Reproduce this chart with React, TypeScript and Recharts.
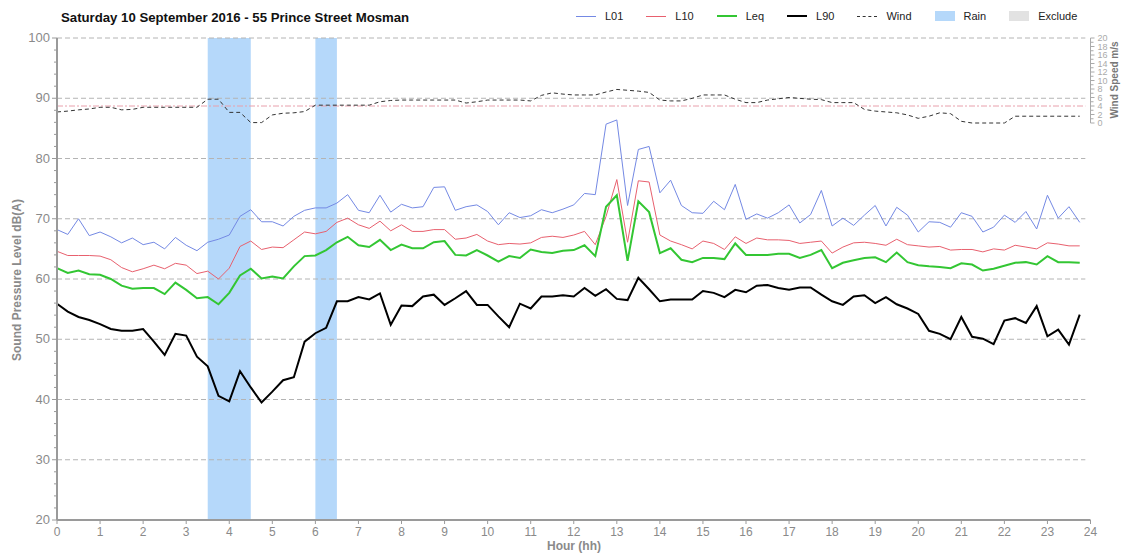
import React from "react";
import { LineChart, Line, XAxis, YAxis, ReferenceArea, ReferenceLine } from "recharts";

// 15 minute intervals, 00:00 .. 23:45
const L01 = [
  68.2, 67.4, 70.0, 67.2, 67.8, 67.0, 66.0, 66.8, 65.7, 66.1, 65.0, 66.9, 65.6, 64.7, 66.1, 66.6,
  67.3, 70.4, 71.5, 69.5, 69.5, 68.8, 70.4, 71.4, 71.8, 71.8, 72.6, 74.0, 71.4, 71.0, 73.9, 71.1,
  72.4, 71.8, 72.0, 75.2, 75.3, 71.4, 72.0, 72.3, 71.2, 69.0, 71.0, 70.2, 70.5, 71.5, 71.0, 71.6,
  72.3, 74.2, 74.0, 85.7, 86.4, 72.2, 81.5, 82.0, 74.3, 76.4, 72.2, 71.0, 70.9, 72.9, 71.5, 75.7,
  69.9, 70.8, 70.1, 71.0, 72.3, 69.3, 70.7, 74.7, 68.8, 70.1, 68.9, 70.6, 72.2, 68.8, 71.9, 70.6,
  67.8, 69.5, 69.4, 68.6, 71.0, 70.4, 67.8, 68.6, 70.6, 69.4, 71.2, 68.3, 73.9, 70.1, 72.0, 69.4,
];
const L10 = [
  64.6, 63.9, 63.9, 63.9, 63.8, 63.2, 61.9, 61.2, 61.7, 62.3, 61.7, 62.6, 62.3, 60.9, 61.3, 60.0,
  61.8, 65.4, 66.3, 64.9, 65.3, 65.2, 66.5, 67.8, 67.5, 67.9, 69.4, 70.1, 69.0, 68.4, 69.6, 68.0,
  69.0, 67.9, 67.9, 68.2, 68.2, 66.6, 66.8, 67.4, 66.3, 65.7, 65.9, 65.8, 66.0, 66.9, 67.1, 66.9,
  67.3, 67.9, 65.7, 70.4, 76.5, 66.1, 76.3, 76.1, 67.3, 66.3, 65.7, 65.0, 66.3, 65.9, 64.9, 67.0,
  65.9, 66.8, 66.5, 66.5, 66.4, 65.9, 66.1, 66.3, 64.3, 65.3, 66.0, 66.1, 65.9, 65.6, 66.6, 65.7,
  65.5, 65.3, 65.4, 64.8, 64.9, 64.9, 64.5, 65.0, 64.8, 65.6, 65.3, 65.0, 66.0, 65.8, 65.5, 65.5,
];
const LEQ = [
  61.8, 61.0, 61.4, 60.8, 60.7, 60.0, 58.9, 58.4, 58.5, 58.5, 57.5, 59.4, 58.2, 56.8, 57.0, 55.8,
  57.7, 60.6, 61.7, 60.1, 60.4, 60.1, 62.1, 63.8, 63.9, 64.8, 66.1, 67.0, 65.6, 65.3, 66.5, 64.8,
  65.7, 65.1, 65.1, 66.1, 66.3, 64.0, 63.9, 64.8, 63.9, 62.9, 63.8, 63.5, 64.9, 64.5, 64.3, 64.7,
  64.8, 65.6, 63.8, 72.0, 73.9, 63.0, 72.9, 71.1, 64.3, 65.1, 63.2, 62.8, 63.5, 63.5, 63.3, 65.9,
  64.0, 64.0, 64.0, 64.2, 64.2, 63.5, 64.0, 64.8, 61.8, 62.7, 63.1, 63.5, 63.6, 62.8, 64.4, 62.8,
  62.3, 62.1, 62.0, 61.8, 62.6, 62.4, 61.4, 61.7, 62.2, 62.7, 62.8, 62.4, 63.8, 62.8, 62.8, 62.7,
];
const L90 = [
  55.9, 54.6, 53.7, 53.2, 52.5, 51.7, 51.4, 51.4, 51.7, 49.6, 47.4, 50.9, 50.6, 47.1, 45.5, 40.6,
  39.7, 44.7, 42.0, 39.5, 41.3, 43.2, 43.7, 49.6, 51.0, 51.9, 56.3, 56.3, 57.0, 56.6, 57.6, 52.4,
  55.6, 55.5, 57.1, 57.4, 55.7, 56.8, 58.0, 55.7, 55.7, 53.8, 52.0, 55.9, 55.1, 57.1, 57.1, 57.3,
  57.1, 58.5, 57.2, 58.3, 56.7, 56.5, 60.2, 58.3, 56.3, 56.6, 56.6, 56.6, 58.0, 57.7, 57.0, 58.2,
  57.8, 58.9, 59.0, 58.5, 58.2, 58.6, 58.6, 57.4, 56.3, 55.7, 57.1, 57.3, 56.0, 57.0, 55.8, 55.1,
  54.2, 51.4, 50.9, 50.0, 53.7, 50.4, 50.1, 49.2, 53.1, 53.5, 52.7, 55.5, 50.5, 51.6, 49.1, 54.1,
];
const WIND = [
  2.6, 2.8, 3.1, 3.3, 3.7, 3.7, 3.1, 3.2, 3.7, 3.7, 3.7, 3.7, 3.7, 3.7, 5.6, 5.6,
  2.5, 2.5, 0.1, 0.1, 1.9, 2.3, 2.4, 2.7, 4.2, 4.2, 4.2, 4.2, 4.2, 4.2, 5.0, 5.3,
  5.4, 5.4, 5.4, 5.4, 5.4, 5.4, 4.7, 5.0, 5.4, 5.4, 5.4, 5.4, 5.2, 6.5, 7.1, 6.8,
  6.6, 6.6, 6.6, 7.3, 7.9, 7.7, 7.5, 7.2, 5.4, 5.2, 5.2, 5.8, 6.6, 6.6, 6.6, 5.6,
  4.8, 4.8, 5.4, 5.7, 6.0, 5.8, 5.6, 5.5, 4.8, 4.8, 4.8, 3.2, 2.8, 2.6, 2.4, 1.9,
  1.1, 1.6, 2.4, 2.2, 0.4, 0.0, 0.0, 0.0, 0.0, 1.6, 1.6, 1.6, 1.6, 1.6, 1.6, 1.6,
];
const HOURS = L01.map((_, i) => i / 4);

const RAIN = [
  { start: 3.5, end: 4.5 },
  { start: 6, end: 6.5 },
];
const WIND_LIMIT = 4;

const X_TICKS = Array.from({ length: 25 }, (_, i) => i);
const DB_TICKS = Array.from({ length: 41 }, (_, i) => 20 + i * 2);
const DB_GRID = [30, 40, 50, 60, 70, 80, 90, 100];
const WIND_TICKS = Array.from({ length: 21 }, (_, i) => i);

const data = HOURS.map((hour, i) => ({
  hour,
  L01: L01[i],
  L10: L10[i],
  Leq: LEQ[i],
  L90: L90[i],
  Wind: WIND[i],
}));

const FONT = "'Liberation Sans', Arial, sans-serif";
const AXIS = "#9a9a9a";
const LABEL = "#8a8a8a";

const LeftTick = (props: any) => {
  const { x, y, payload } = props;
  const major = payload.value % 10 === 0;
  return (
    <g>
      <line x1={x - (major ? 5 : 3)} x2={x} y1={y} y2={y} stroke={AXIS} />
      {major && (
        <text x={x - 7} y={y} dy={4} textAnchor="end" fill={LABEL} fontSize={13} fontFamily={FONT}>
          {payload.value}
        </text>
      )}
    </g>
  );
};

const RightTick = (props: any) => {
  const { x, y, payload } = props;
  const major = payload.value % 2 === 0;
  return (
    <g>
      <line x1={x} x2={x + (major ? 4 : 3)} y1={y} y2={y} stroke="#aaa" />
      {major && (
        <text x={x + 7} y={y} dy={3} textAnchor="start" fill="#aaa" fontSize={9} fontFamily={FONT}>
          {payload.value}
        </text>
      )}
    </g>
  );
};

const BottomTick = (props: any) => {
  const { x, y, payload } = props;
  return (
    <g>
      <line x1={x} x2={x} y1={y} y2={y + 4} stroke={AXIS} />
      <text x={x} y={y + 16} textAnchor="middle" fill={LABEL} fontSize={12} fontFamily={FONT}>
        {payload.value}
      </text>
    </g>
  );
};

const LEGEND = [
  { name: "L01", color: "#7489e4", kind: "line", w: 1 },
  { name: "L10", color: "#e8606e", kind: "line", w: 1 },
  { name: "Leq", color: "#33c633", kind: "line", w: 2 },
  { name: "L90", color: "#000000", kind: "line", w: 2 },
  { name: "Wind", color: "#333333", kind: "dash", w: 1 },
  { name: "Rain", color: "#b5d8fa", kind: "box", w: 0 },
  { name: "Exclude", color: "#e2e2e2", kind: "box", w: 0 },
];

export default function App() {
  return (
    <div style={{ position: "absolute", left: 0, top: 0, width: 1126, height: 556, background: "#fff" }}>
      <div
        style={{
          position: "absolute",
          left: 61,
          top: 10,
          fontFamily: FONT,
          fontWeight: "bold",
          fontSize: 13.2,
          color: "#111",
        }}
      >
        Saturday 10 September 2016 - 55 Prince Street Mosman
      </div>
      <div style={{ position: "absolute", left: 576, top: 10, display: "flex", alignItems: "center" }}>
        {LEGEND.map((it) => (
          <div key={it.name} style={{ display: "flex", alignItems: "center", marginRight: 23 }}>
            {it.kind === "box" ? (
              <div style={{ width: 20, height: 10, background: it.color }} />
            ) : (
              <div
                style={{
                  width: 20,
                  height: 0,
                  borderTop: `${it.w}px ${it.kind === "dash" ? "dashed" : "solid"} ${it.color}`,
                }}
              />
            )}
            <span style={{ marginLeft: 9, fontFamily: FONT, fontSize: 11, color: "#222" }}>{it.name}</span>
          </div>
        ))}
      </div>
      <LineChart width={1126} height={556} data={data} margin={{ top: 38, right: 0, bottom: 0, left: 0 }}>
        {RAIN.map((r) => (
          <ReferenceArea
            key={r.start}
            yAxisId="db"
            x1={r.start}
            x2={r.end}
            y1={20}
            y2={100}
            fill="#b5d8fa"
            fillOpacity={1}
            stroke="none"
          />
        ))}
        {DB_GRID.map((v) => (
          <ReferenceLine
            key={v}
            yAxisId="db"
            segment={[
              { x: 0, y: v },
              { x: 23.88, y: v },
            ]}
            stroke="#b4b4b4"
            strokeDasharray="5 3"
          />
        ))}
        <ReferenceLine
          yAxisId="wind"
          segment={[
            { x: 0, y: WIND_LIMIT },
            { x: 23.88, y: WIND_LIMIT },
          ]}
          stroke="#e8a0ac"
          strokeDasharray="6 2 2 2"
        />
        <ReferenceLine
          yAxisId="wind"
          segment={[
            { x: 24, y: 0 },
            { x: 24, y: 20 },
          ]}
          stroke="#aaa"
        />
        <XAxis
          dataKey="hour"
          type="number"
          domain={[0, 24]}
          ticks={X_TICKS}
          height={36}
          tickSize={0}
          tickMargin={0}
          tick={<BottomTick />}
          axisLine={{ stroke: AXIS, strokeWidth: 2 }}
          tickLine={false}
          interval={0}
        />
        <YAxis
          yAxisId="db"
          orientation="left"
          domain={[20, 100]}
          ticks={DB_TICKS}
          width={57}
          tickSize={0}
          tickMargin={0}
          tick={<LeftTick />}
          axisLine={{ stroke: AXIS, strokeWidth: 2 }}
          tickLine={false}
          interval={0}
        />
        <YAxis
          yAxisId="wind"
          orientation="right"
          domain={[-93.4, 20]}
          allowDataOverflow
          ticks={WIND_TICKS}
          width={35.5}
          tickSize={0}
          tickMargin={0}
          tick={<RightTick />}
          axisLine={false}
          tickLine={false}
          interval={0}
        />
        <Line yAxisId="wind" dataKey="Wind" stroke="#333" strokeWidth={1} strokeDasharray="4 3" dot={false} isAnimationActive={false} />
        <Line yAxisId="db" dataKey="L01" stroke="#7489e4" strokeWidth={1} dot={false} isAnimationActive={false} />
        <Line yAxisId="db" dataKey="L10" stroke="#e8606e" strokeWidth={1} dot={false} isAnimationActive={false} />
        <Line yAxisId="db" dataKey="Leq" stroke="#33c633" strokeWidth={2} dot={false} isAnimationActive={false} />
        <Line yAxisId="db" dataKey="L90" stroke="#000" strokeWidth={2} dot={false} isAnimationActive={false} />
      </LineChart>
      <div
        style={{
          position: "absolute",
          left: 17,
          top: 280,
          transform: "translate(-50%, -50%) rotate(-90deg)",
          whiteSpace: "nowrap",
          fontFamily: FONT,
          fontWeight: "bold",
          fontSize: 12,
          color: LABEL,
        }}
      >
        Sound Pressure Level dB(A)
      </div>
      <div
        style={{
          position: "absolute",
          left: 574,
          top: 546,
          transform: "translate(-50%, -50%)",
          whiteSpace: "nowrap",
          fontFamily: FONT,
          fontWeight: "bold",
          fontSize: 12,
          color: LABEL,
        }}
      >
        Hour (hh)
      </div>
      <div
        style={{
          position: "absolute",
          left: 1114,
          top: 80,
          transform: "translate(-50%, -50%) rotate(-90deg)",
          whiteSpace: "nowrap",
          fontFamily: FONT,
          fontWeight: "bold",
          fontSize: 10,
          color: "#777",
        }}
      >
        Wind Speed m/s
      </div>
    </div>
  );
}
